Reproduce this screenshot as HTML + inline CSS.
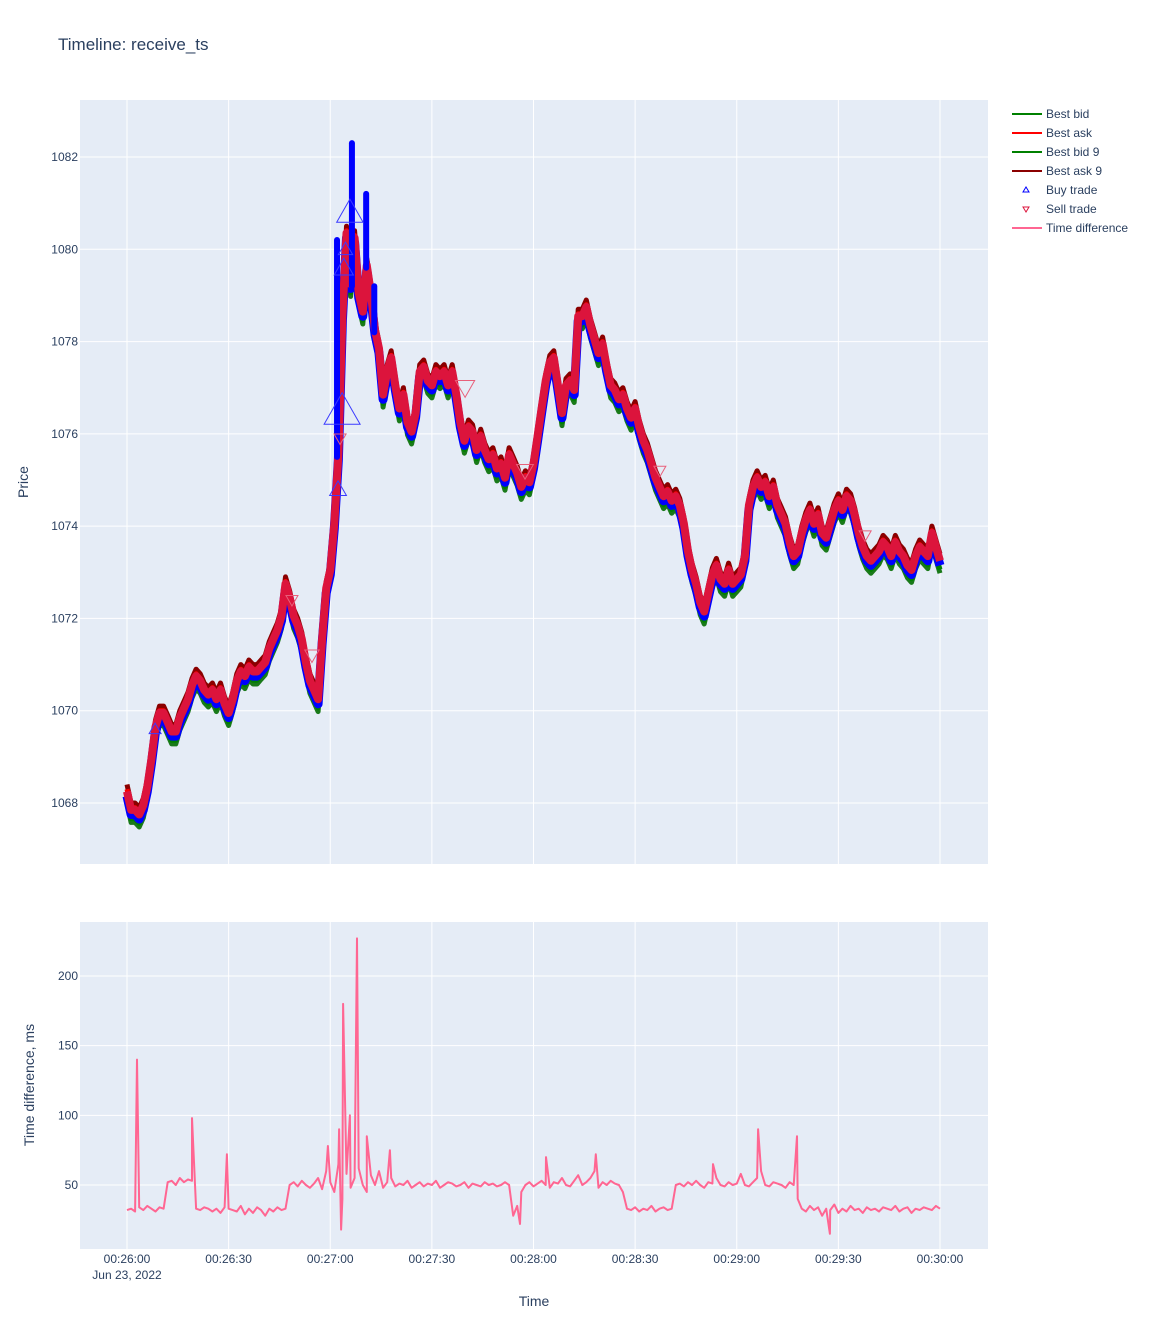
<!DOCTYPE html>
<html><head><meta charset="utf-8"><style>
body{margin:0;background:#fff;}
svg{display:block;font-family:"Liberation Sans","Open Sans",sans-serif;}
</style></head><body>
<svg id="chart" width="1151" height="1330" xmlns="http://www.w3.org/2000/svg">
<text x="58" y="50" font-size="17" fill="#2a3f5f">Timeline: receive_ts</text>
<rect x="80" y="100" width="908" height="764" fill="#e5ecf6"/>
<rect x="80" y="922" width="908" height="327" fill="#e5ecf6"/>
<g id="grid"></g>
<g id="marks"></g>
<text x="28" y="482" font-size="14" fill="#2a3f5f" text-anchor="middle" transform="rotate(-90 28 482)">Price</text>
<text x="34" y="1085" font-size="14" fill="#2a3f5f" text-anchor="middle" transform="rotate(-90 34 1085)">Time difference, ms</text>
<text x="534" y="1306" font-size="14" fill="#2a3f5f" text-anchor="middle">Time</text>
<g id="legend"></g>
</svg>
<script>
const NS="http://www.w3.org/2000/svg";
// ---- data ----
const priceStart=0, priceStep=1.2;
const midPrice=[1068.2,1067.8,1067.8,1067.7,1067.9,1068.3,1068.9,1069.6,1069.9,1069.9,
1069.7,1069.5,1069.5,1069.8,1070.0,1070.2,1070.5,1070.7,1070.6,1070.4,
1070.3,1070.4,1070.2,1070.4,1070.1,1069.9,1070.2,1070.6,1070.8,1070.7,
1070.9,1070.8,1070.8,1070.9,1071.0,1071.3,1071.5,1071.7,1072.0,1072.7,
1072.4,1072.0,1071.8,1071.5,1071.0,1070.6,1070.4,1070.2,1071.5,1072.6,
1073.0,1074.0,1075.5,1078.5,1080.3,1079.2,1080.2,1079.0,1078.6,1079.6,
1079.0,1078.2,1077.8,1076.8,1077.3,1077.6,1077.0,1076.5,1076.8,1076.2,
1076.0,1076.4,1077.3,1077.4,1077.1,1077.0,1077.3,1077.2,1077.3,1077.0,
1077.3,1076.8,1076.2,1075.8,1076.1,1076.0,1075.6,1075.9,1075.6,1075.4,
1075.5,1075.2,1075.3,1075.0,1075.5,1075.3,1075.1,1074.8,1075.0,1074.9,
1075.3,1075.9,1076.5,1077.1,1077.5,1077.6,1077.0,1076.4,1077.0,1077.1,
1076.9,1078.5,1078.5,1078.7,1078.3,1078.0,1077.7,1077.9,1077.4,1077.0,
1076.9,1076.7,1076.8,1076.5,1076.3,1076.5,1076.1,1075.8,1075.6,1075.3,
1075.0,1074.8,1074.6,1074.7,1074.5,1074.6,1074.4,1074.0,1073.4,1073.0,
1072.7,1072.3,1072.1,1072.5,1072.9,1073.1,1072.8,1072.7,1073.0,1072.7,
1072.8,1072.9,1073.3,1074.4,1074.8,1075.0,1074.8,1074.9,1074.6,1074.8,
1074.4,1074.2,1074.0,1073.6,1073.3,1073.4,1073.8,1074.1,1074.3,1074.0,
1074.2,1073.8,1073.7,1074.0,1074.3,1074.5,1074.3,1074.6,1074.5,1074.2,
1073.8,1073.5,1073.3,1073.2,1073.3,1073.4,1073.6,1073.5,1073.3,1073.6,
1073.4,1073.3,1073.1,1073.0,1073.3,1073.5,1073.4,1073.3,1073.8,1073.5,1073.2];
const spikeBuyT=[62.0,66.4,70.6,73.0];
const spikeBuyP=[1080.2,1082.3,1081.2,1079.2];
const buyT=[8.3,62.3,63.5,64.0,65.8,64.5];
const buyP=[1069.6,1074.8,1076.5,1079.6,1080.8,1080.0];
const buyS=[10,14,30,16,22,12];
const sellT=[99.8,54.6,48.7,117.5,157.3,217.9,62.9];
const sellP=[1077.0,1071.2,1072.4,1075.2,1075.2,1073.8,1075.9];
const sellS=[16,12,10,14,10,10,10];
const diffStep=1.2;
const diffBase=[32,33,31,34,32,35,33,31,34,33,
52,53,50,55,52,54,53,33,32,34,
33,31,33,30,34,33,32,31,35,29,
33,30,34,32,28,33,31,34,32,33,
50,52,49,53,50,48,51,55,47,60,
52,45,65,40,58,48,55,62,50,45,
57,50,60,48,52,55,49,51,50,53,
48,50,52,49,51,50,53,48,50,52,
51,49,50,52,48,51,50,49,52,50,
51,49,50,52,50,28,35,45,50,52,
49,51,53,50,48,52,51,55,50,49,
53,57,50,52,55,60,48,52,50,53,
51,50,45,33,32,34,31,33,32,35,
31,33,34,32,33,50,51,49,52,50,
53,50,48,52,51,55,50,49,52,50,
51,58,50,49,52,55,60,50,49,52,
51,50,48,52,50,40,33,31,35,32,
34,28,33,32,36,30,33,31,35,32,
33,30,34,32,33,31,34,33,32,35,
31,33,34,30,33,32,34,33,32,35,33];
const diffSpikeT=[2.95,19.2,29.5,59.3,62.6,63.2,63.8,65.8,67.9,70.8,77.6,116.0,123.7,138.4,173.0,186.3,197.8,207.5];
const diffSpikeV=[140,98,72,78,90,18,180,100,227,85,75,22,70,72,65,90,85,15];
const yTicksPrice=[1068,1070,1072,1074,1076,1078,1080,1082];
const yTicksDiff=[50,100,150,200];
const xTickSec=[0,30,60,90,120,150,180,210,240];
const xTickLabels=["00:26:00","00:26:30","00:27:00","00:27:30","00:28:00","00:28:30","00:29:00","00:29:30","00:30:00"];
// ---- axes ----
const X=t=>127+t*(813/240);
const YP=p=>157+(1082-p)*(646/14);
const YD=v=>1185-(v-50)*(209/150);
const grid=document.getElementById('grid'), marks=document.getElementById('marks');
function el(tag,attrs,parent){const e=document.createElementNS(NS,tag);for(const k in attrs)e.setAttribute(k,attrs[k]);parent.appendChild(e);return e;}
xTickSec.forEach((t,i)=>{
  const l1=el('line',{x1:X(t),x2:X(t),y1:100,y2:864,stroke:'#fff','stroke-width':1},grid);
  
  
  const l2=el('line',{x1:X(t),x2:X(t),y1:922,y2:1249,stroke:'#fff','stroke-width':1},grid);
  
  
  const tx=el('text',{x:X(t),y:1263,'font-size':12,fill:'#2a3f5f','text-anchor':'middle'},grid);
  tx.textContent=xTickLabels[i];
  
  
});
const dl=el('text',{x:X(0),y:1279,'font-size':12,fill:'#2a3f5f','text-anchor':'middle'},grid);dl.textContent='Jun 23, 2022';


yTicksPrice.forEach(p=>{
  const l=el('line',{x1:80,x2:988,y1:YP(p),y2:YP(p),stroke:'#fff','stroke-width':1},grid);
  
  
  const tx=el('text',{x:78,y:YP(p)+4,'font-size':12,fill:'#2a3f5f','text-anchor':'end'},grid);tx.textContent=p;
  
  
});
yTicksDiff.forEach(v=>{
  const l=el('line',{x1:80,x2:988,y1:YD(v),y2:YD(v),stroke:'#fff','stroke-width':1},grid);
  
  
  const tx=el('text',{x:78,y:YD(v)+4,'font-size':12,fill:'#2a3f5f','text-anchor':'end'},grid);tx.textContent=v;
  
  
});
// ---- price lines ----
function line(off,color,w,name){
  const pts=midPrice.map((p,i)=>X(priceStart+i*priceStep).toFixed(1)+','+YP(p+off).toFixed(1)).join(' ');
  const pl=el('polyline',{points:pts,fill:'none',stroke:color,'stroke-width':w,'stroke-linejoin':'round'},marks);
  
  
}
line(-0.22,'#1a7a1a',5,'best-bid-9-line');
line(-0.14,'#008000',5,'best-bid-line');
line(-0.05,'#0000ff',9,'buy-trade-band');
line(0.2,'#8b0000',5,'best-ask-9-line');
line(0.1,'#ff0000',5,'best-ask-line');
line(0.05,'#dc143c',8,'sell-trade-band');
spikeBuyT.forEach((t,i)=>{
  const idx=Math.round(t/priceStep);
  const s=el('line',{x1:X(t),x2:X(t),y1:YP(midPrice[idx]),y2:YP(spikeBuyP[i]),stroke:'#0000ff','stroke-width':6,'stroke-linecap':'round'},marks);
  
  
});
buyT.forEach((t,i)=>{
  const x=X(t),y=YP(buyP[i]),s=buyS[i];
  const tr=el('polygon',{points:`${x},${y-s*0.6} ${x-s*0.6},${y+s*0.45} ${x+s*0.6},${y+s*0.45}`,fill:'none',stroke:'#3b3bff','stroke-width':1},marks);
  
  
});
sellT.forEach((t,i)=>{
  const x=X(t),y=YP(sellP[i]),s=sellS[i];
  const tr=el('polygon',{points:`${x},${y+s*0.6} ${x-s*0.6},${y-s*0.45} ${x+s*0.6},${y-s*0.45}`,fill:'none',stroke:'#e8607a','stroke-width':1},marks);
  
  
});
// ---- time diff ----
const dpts=diffBase.map((v,i)=>[i*diffStep,v]).concat(diffSpikeT.map((t,i)=>[t,diffSpikeV[i]])).sort((a,b)=>a[0]-b[0]);
const dp=el('polyline',{points:dpts.map(p=>X(p[0]).toFixed(1)+','+YD(p[1]).toFixed(1)).join(' '),fill:'none',stroke:'#ff6692','stroke-width':2,'stroke-linejoin':'round'},marks);


// ---- legend ----
const lg=document.getElementById('legend');
const legNames=["Best bid","Best ask","Best bid 9","Best ask 9","Buy trade","Sell trade","Time difference"];
const legColors=["#008000","#ff0000","#008000","#8b0000","#0000ff","#dc143c","#ff6692"];
legNames.forEach((n,i)=>{
  const y=114+i*19;
  const g=el('g',{},lg);
  
  
  if(i===4) el('polygon',{points:`1026,${y-3} 1023,${y+2} 1029,${y+2}`,fill:'none',stroke:legColors[i]},g);
  else if(i===5) el('polygon',{points:`1026,${y+3} 1023,${y-2} 1029,${y-2}`,fill:'none',stroke:legColors[i]},g);
  else el('line',{x1:1012,x2:1042,y1:y,y2:y,stroke:legColors[i],'stroke-width':2},g);
  const t=el('text',{x:1046,y:y+4,'font-size':12,fill:'#2a3f5f'},g);t.textContent=n;
});
</script>
</body></html>
